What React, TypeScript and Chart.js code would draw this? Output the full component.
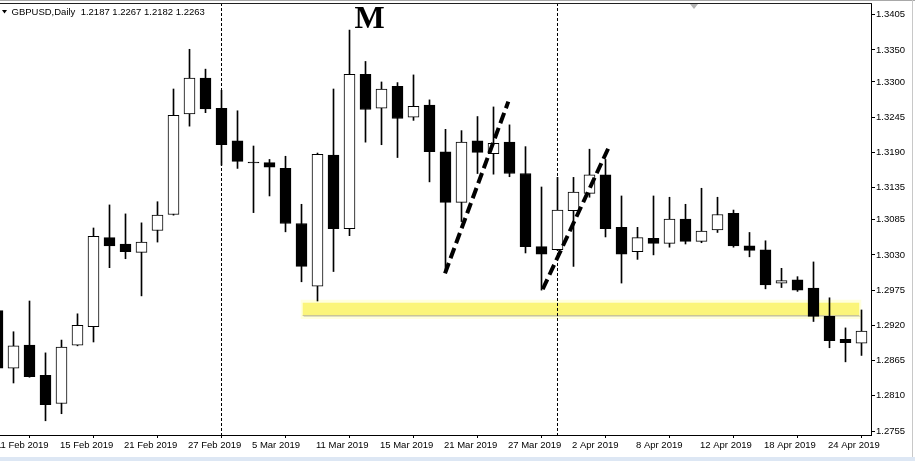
import React, { useEffect, useRef } from "react";
import { Chart, registerables } from "chart.js";

Chart.register(...registerables);

// ---- data ----
const dates = [
  "11 Feb 2019", "12 Feb 2019", "13 Feb 2019", "14 Feb 2019", "15 Feb 2019",
  "18 Feb 2019", "19 Feb 2019", "20 Feb 2019", "21 Feb 2019", "22 Feb 2019",
  "25 Feb 2019", "26 Feb 2019", "27 Feb 2019", "28 Feb 2019",
  "1 Mar 2019", "4 Mar 2019", "5 Mar 2019", "6 Mar 2019", "7 Mar 2019", "8 Mar 2019",
  "11 Mar 2019", "12 Mar 2019", "13 Mar 2019", "14 Mar 2019", "15 Mar 2019",
  "18 Mar 2019", "19 Mar 2019", "20 Mar 2019", "21 Mar 2019", "22 Mar 2019",
  "25 Mar 2019", "26 Mar 2019", "27 Mar 2019", "28 Mar 2019", "29 Mar 2019",
  "1 Apr 2019", "2 Apr 2019", "3 Apr 2019", "4 Apr 2019", "5 Apr 2019",
  "8 Apr 2019", "9 Apr 2019", "10 Apr 2019", "11 Apr 2019", "12 Apr 2019",
  "15 Apr 2019", "16 Apr 2019", "17 Apr 2019", "18 Apr 2019", "19 Apr 2019",
  "22 Apr 2019", "23 Apr 2019", "24 Apr 2019", "25 Apr 2019", "26 Apr 2019",
];

const openPrices = [
  1.2943, 1.2853, 1.2889, 1.2842, 1.2798, 1.2889, 1.2918, 1.3057, 1.3047, 1.3034,
  1.3068, 1.3093, 1.3250, 1.3306, 1.3259, 1.3208, 1.3175, 1.3174, 1.3165, 1.3079,
  1.2981, 1.3186, 1.3071, 1.3312, 1.3259, 1.3293, 1.3245, 1.3264, 1.3191, 1.3112,
  1.3208, 1.3188, 1.3206, 1.3157, 1.3043, 1.3038, 1.3099, 1.3126, 1.3155, 1.3073,
  1.3035, 1.3056, 1.3048, 1.3086, 1.3051, 1.3069, 1.3095, 1.3044, 1.3038, 1.2986,
  1.2991, 1.2978, 1.2934, 1.2898, 1.2892,
];
const highPrices = [
  1.2955, 1.2910, 1.2958, 1.2877, 1.2897, 1.2938, 1.3072, 1.3108, 1.3094, 1.3080,
  1.3113, 1.3289, 1.3351, 1.3320, 1.3287, 1.3255, 1.3200, 1.3179, 1.3184, 1.3109,
  1.3189, 1.3289, 1.3381, 1.3332, 1.3300, 1.3299, 1.3311, 1.3272, 1.3226, 1.3224,
  1.3246, 1.3261, 1.3233, 1.3199, 1.3136, 1.3151, 1.3151, 1.3195, 1.3179, 1.3122,
  1.3073, 1.3122, 1.3120, 1.3109, 1.3134, 1.3120, 1.3100, 1.3065, 1.3052, 1.3009,
  1.2996, 1.3019, 1.2963, 1.2916, 1.2944,
];
const lowPrices = [
  1.2842, 1.2830, 1.2839, 1.2771, 1.2782, 1.2888, 1.2894, 1.3010, 1.3024, 1.2966,
  1.3050, 1.3092, 1.3231, 1.3252, 1.3170, 1.3165, 1.3096, 1.3122, 1.3066, 1.2988,
  1.2958, 1.3004, 1.3060, 1.3206, 1.3202, 1.3182, 1.3240, 1.3144, 1.3003, 1.3082,
  1.3157, 1.3156, 1.3152, 1.3033, 1.2975, 1.3037, 1.3012, 1.3120, 1.3058, 1.2986,
  1.3023, 1.3030, 1.3042, 1.3047, 1.3049, 1.3065, 1.3042, 1.3027, 1.2977, 1.2979,
  1.2973, 1.2926, 1.2885, 1.2863, 1.2873,
];
const closePrices = [
  1.2853, 1.2888, 1.2840, 1.2796, 1.2886, 1.2920, 1.3059, 1.3044, 1.3035, 1.3050,
  1.3092, 1.3248, 1.3306, 1.3258, 1.3202, 1.3176, 1.31735, 1.3167, 1.3079, 1.3012,
  1.3187, 1.3071, 1.3312, 1.3257, 1.3289, 1.3243, 1.3262, 1.3191, 1.3112, 1.3206,
  1.3190, 1.3204, 1.3157, 1.3043, 1.3031, 1.3100, 1.3128, 1.3155, 1.3071, 1.3031,
  1.3057, 1.3048, 1.3086, 1.3051, 1.3067, 1.3093, 1.3044, 1.3037, 1.2983, 1.2990,
  1.2975, 1.2934, 1.2896, 1.2893, 1.2911,
];

const priceTicks = [
  1.3405, 1.3350, 1.3300, 1.3245, 1.3190, 1.3135, 1.3085,
  1.3030, 1.2975, 1.2920, 1.2865, 1.2810, 1.2755,
];
const dateTickStep = 4;
const monthSeparators = [14, 35];

const symbolName = "GBPUSD,Daily";
const headerQuote = ["1.2187", "1.2267", "1.2182", "1.2263"];

// annotations in data units (bar index, price)
const trendLines = [
  { x1: 27.97, y1: 1.30012, x2: 31.925, y2: 1.32692 },
  { x1: 34.075, y1: 1.29763, x2: 38.175, y2: 1.31964 },
];
const supportZone = { x1: 19.075, x2: 53.86, top: 1.29553, bottom: 1.29346 };
const patternLabel = { text: "M", x: 23.25, y: 1.33838 };

// visible range
const xMin = 0.15625;
const xMax = 54.59375;
const yMin = 1.274878;
const yMax = 1.342327;

const FONT = '"Liberation Sans", Arial, sans-serif';

const decorPlugin = {
  id: "decor",
  beforeDatasetsDraw(chart: any) {
    const { ctx, chartArea } = chart;
    const xs = chart.scales.x;
    const ys = chart.scales.y;
    ctx.save();
    // support zone
    const zx1 = xs.getPixelForValue(supportZone.x1);
    const zx2 = xs.getPixelForValue(supportZone.x2);
    const zy1 = ys.getPixelForValue(supportZone.top);
    const zy2 = ys.getPixelForValue(supportZone.bottom);
    ctx.fillStyle = "rgba(255,255,200,0.6)";
    ctx.fillRect(zx1 - 2, zy1 - 3, zx2 - zx1 + 4, zy2 - zy1 + 6);
    ctx.fillStyle = "#fbf57a";
    ctx.fillRect(zx1, zy1, zx2 - zx1, zy2 - zy1);
    ctx.fillStyle = "#c9c59a";
    ctx.fillRect(zx1, zy2 - 1, zx2 - zx1, 1);
    ctx.fillStyle = "rgba(160,160,140,0.35)";
    ctx.fillRect(zx1 + 1, zy2, zx2 - zx1, 1);
    // month separators
    ctx.strokeStyle = "#000";
    ctx.lineWidth = 1;
    ctx.setLineDash([3, 2]);
    for (const s of monthSeparators) {
      const x = Math.floor(xs.getPixelForValue(s)) + 0.5;
      ctx.beginPath();
      ctx.moveTo(x, chartArea.top);
      ctx.lineTo(x, chartArea.bottom);
      ctx.stroke();
    }
    ctx.restore();
  },
  afterDatasetsDraw(chart: any) {
    const { ctx } = chart;
    const xs = chart.scales.x;
    const ys = chart.scales.y;
    ctx.save();
    ctx.strokeStyle = "#000";
    ctx.lineWidth = 4;
    ctx.lineCap = "butt";
    ctx.setLineDash([11, 5]);
    for (const l of trendLines) {
      ctx.beginPath();
      ctx.moveTo(xs.getPixelForValue(l.x1), ys.getPixelForValue(l.y1));
      ctx.lineTo(xs.getPixelForValue(l.x2), ys.getPixelForValue(l.y2));
      ctx.stroke();
    }
    ctx.setLineDash([]);
    ctx.fillStyle = "#000";
    ctx.font = 'bold 32px "Liberation Serif", "Times New Roman", serif';
    ctx.textAlign = "center";
    ctx.textBaseline = "alphabetic";
    ctx.fillText(patternLabel.text, xs.getPixelForValue(patternLabel.x), ys.getPixelForValue(patternLabel.y));
    ctx.restore();
  },
  afterDraw(chart: any) {
    const { ctx, chartArea, width, height } = chart;
    ctx.save();
    // window chrome
    ctx.fillStyle = "#a8a8a8";
    ctx.fillRect(0, 0, width, 1);
    ctx.fillStyle = "#c8c8c8";
    ctx.fillRect(912, 0, 1, height);
    ctx.fillStyle = "#dde7f4";
    ctx.fillRect(0, 457, width, height - 457);
    // frame top
    ctx.fillStyle = "#202020";
    ctx.fillRect(0, chartArea.top, chartArea.right + 1, 1);
    // shift marker
    ctx.fillStyle = "#b4b4b4";
    ctx.beginPath();
    ctx.moveTo(690, 4);
    ctx.lineTo(698, 4);
    ctx.lineTo(694, 9);
    ctx.closePath();
    ctx.fill();
    // header
    ctx.fillStyle = "#000";
    ctx.beginPath();
    ctx.moveTo(2, 10);
    ctx.lineTo(7, 10);
    ctx.lineTo(4.5, 13.5);
    ctx.closePath();
    ctx.fill();
    ctx.font = "9.5px " + FONT;
    ctx.textAlign = "left";
    ctx.textBaseline = "alphabetic";
    ctx.fillText(symbolName + "  " + headerQuote.join(" "), 11.5, 15);
    ctx.restore();
  },
};

export default function App() {
  const ref = useRef<HTMLCanvasElement>(null);
  useEffect(() => {
    const bodyColors = openPrices.map((o, i) => (closePrices[i] >= o ? "#ffffff" : "#000000"));
    const chart = new Chart(ref.current as HTMLCanvasElement, {
      type: "bar",
      data: {
        datasets: [
          {
            label: "body",
            data: dates.map((_, i) => ({ x: i, y: [openPrices[i], closePrices[i]] })) as any,
            backgroundColor: bodyColors,
            borderColor: "#000000",
            borderWidth: 1,
            borderSkipped: false,
            barThickness: 11,
            grouped: false,
            order: 0,
          } as any,
          {
            label: "wick",
            data: dates.map((_, i) => ({ x: i, y: [lowPrices[i], highPrices[i]] })) as any,
            backgroundColor: "#000000",
            borderWidth: 0,
            barThickness: 1,
            grouped: false,
            order: 1,
          } as any,
        ],
      },
      options: {
        animation: false,
        responsive: false,
        devicePixelRatio: 1,
        events: [],
        layout: { padding: { top: 3, left: 0, right: 0, bottom: 0 } },
        plugins: { legend: { display: false }, tooltip: { enabled: false }, title: { display: false } },
        scales: {
          x: {
            type: "linear",
            position: "bottom",
            min: xMin,
            max: xMax,
            offset: false,
            afterBuildTicks: (scale: any) => {
              scale.ticks = dates
                .map((_, i) => i)
                .filter((i) => i % dateTickStep === 0)
                .map((i) => ({ value: i }));
            },
            afterFit: (scale: any) => {
              scale.height = 26;
              scale.paddingLeft = 0;
              scale.paddingRight = 0;
            },
            ticks: {
              autoSkip: false,
              maxRotation: 0,
              minRotation: 0,
              align: "start",
              labelOffset: -1.5,
              padding: 2,
              color: "#000",
              font: { family: FONT, size: 9.5 },
              callback: (v: any) => dates[Math.round(Number(v))] ?? "",
            },
            grid: { display: true, drawOnChartArea: false, drawTicks: true, tickLength: 3, color: "#000" },
            border: { display: true, color: "#000", width: 1 },
          },
          y: {
            type: "linear",
            position: "right",
            min: yMin,
            max: yMax,
            afterBuildTicks: (scale: any) => {
              scale.ticks = priceTicks.map((v) => ({ value: v }));
            },
            afterFit: (scale: any) => {
              scale.width = 44;
              scale.paddingTop = 0;
              scale.paddingBottom = 0;
            },
            ticks: {
              padding: 1,
              color: "#000",
              font: { family: FONT, size: 9.5 },
              callback: (v: any) => Number(v).toFixed(4),
            },
            grid: { display: true, drawOnChartArea: false, drawTicks: true, tickLength: 4, color: "#000" },
            border: { display: true, color: "#000", width: 1 },
          },
        },
      } as any,
      plugins: [decorPlugin],
    });
    return () => chart.destroy();
  }, []);
  return (
    <div style={{ position: "absolute", left: 0, top: 0, width: 915, height: 461, background: "#fff", overflow: "hidden" }}>
      <canvas ref={ref} width={915} height={461} style={{ display: "block", width: 915, height: 461 }} />
    </div>
  );
}
